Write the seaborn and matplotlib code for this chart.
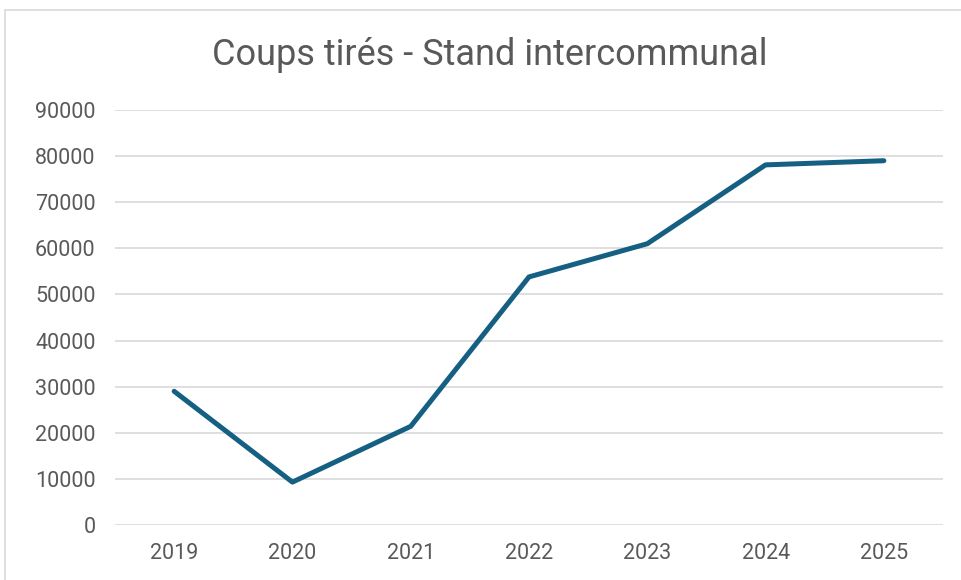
import matplotlib
matplotlib.use("Agg")
import matplotlib.pyplot as plt
import seaborn as sns
import pandas as pd
from matplotlib.patches import Rectangle

### data
years = ["2019", "2020", "2021", "2022", "2023", "2024", "2025"]
shots = [29000, 9300, 21400, 53800, 61000, 78100, 79000]
y_ticks = [0, 10000, 20000, 30000, 40000, 50000, 60000, 70000, 80000, 90000]

df = pd.DataFrame({"annee": years, "coups": shots})

sns.set_theme(style="white")
plt.rcParams["font.family"] = ["Roboto", "DejaVu Sans"]

fig = plt.figure(figsize=(9.62, 5.8), dpi=100)
ax = fig.add_axes([115 / 962, 1 - 525 / 580, 828 / 962, 415 / 580])

### gray frame round the chart area
fig.patches.append(Rectangle((5 / 962, -0.1), 1.2, 1 - 10 / 580 + 0.1,
                             transform=fig.transFigure, fill=False,
                             edgecolor="#d9d9d9", linewidth=1.2))

sns.lineplot(data=df, x="annee", y="coups", ax=ax, color="#156082",
             linewidth=3.6, sort=False, solid_capstyle="round")

ax.set_xlim(-0.5, len(years) - 0.5)
ax.set_ylim(0, 90000)
ax.set_yticks(y_ticks)
ax.set_yticklabels([str(v) for v in y_ticks])
ax.grid(axis="y", color="#d9d9d9", linewidth=1.2)
ax.set_axisbelow(True)
for s in ax.spines.values():
    s.set_visible(False)
ax.set_xlabel("")
ax.set_ylabel("")
ax.tick_params(axis="both", length=0, labelsize=15.5, labelcolor="#595959")
ax.tick_params(axis="y", pad=14)
ax.tick_params(axis="x", pad=13)

fig.text(490 / 962, 1 - 55 / 580, "Coups tirés - Stand intercommunal",
         ha="center", va="center", fontsize=26, color="#595959")

fig.savefig("out.png", dpi=100)
